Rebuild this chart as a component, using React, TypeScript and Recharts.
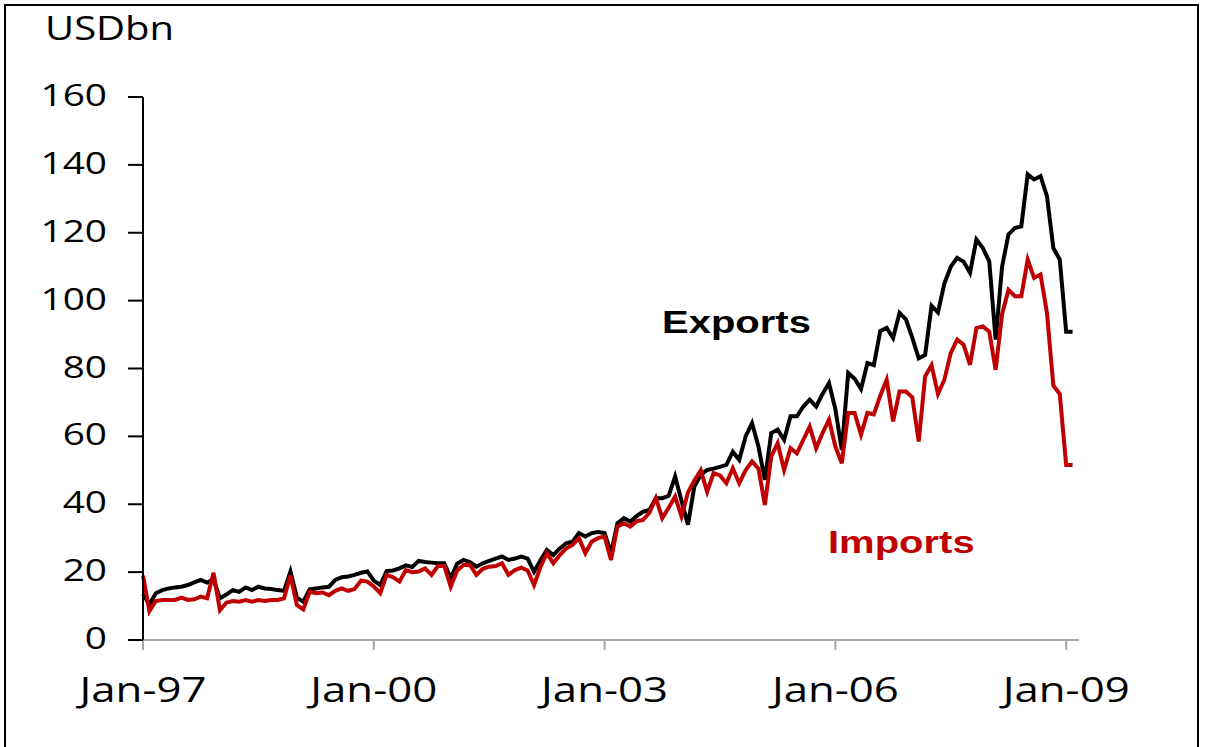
import React from "react";
import { Line, LineChart, XAxis, YAxis } from "recharts";

// monthly, Jan-97 .. Feb-09 (USD bn)
const exportsBn = [
  13.5, 10.5, 13.8, 14.7, 15.2, 15.5, 15.7, 16.2, 17.0, 17.7, 16.9, 17.8,
  12.3, 13.4, 14.7, 14.2, 15.5, 14.7, 15.7, 15.2, 15.0, 14.7, 14.5, 20.2,
  12.5, 11.3, 14.9, 15.2, 15.5, 15.7, 17.7, 18.5, 18.7, 19.2, 19.8, 20.2,
  17.5, 16.2, 20.3, 20.5, 21.1, 22.0, 21.5, 23.3, 23.0, 22.8, 22.6, 22.6,
  18.2, 22.5, 23.6, 23.0, 21.6, 22.6, 23.3, 24.0, 24.6, 23.6, 24.0, 24.6,
  24.0, 20.1, 23.5, 26.5, 25.0, 27.0, 28.5, 29.0, 31.5, 30.5, 31.5, 31.8,
  31.5, 25.5, 34.4, 35.9, 34.9, 36.5, 37.8, 38.3, 41.8, 41.8, 42.5, 48.2,
  41.0, 34.0, 45.2, 48.7, 50.1, 50.5, 51.0, 51.6, 55.5, 53.1, 60.0, 63.9,
  57.0, 47.2, 61.0, 62.0, 59.0, 65.9, 65.9, 68.8, 70.8, 68.8, 72.5, 75.7,
  68.0, 56.0, 78.7, 77.0, 74.0, 81.6, 81.0, 91.0, 92.0, 89.0, 96.4, 94.5,
  89.0, 83.0, 84.0, 98.5, 96.5, 105.0, 110.0, 112.6, 111.5, 108.2, 118.0, 115.5,
  111.6, 88.5, 110.0, 119.5, 121.4, 121.9, 137.2, 135.7, 136.7, 130.8, 115.5, 112.1,
  90.8, 90.8,
];

const importsBn = [
  19.0, 8.5, 11.5, 11.8, 11.8, 11.8, 12.5, 11.8, 12.0, 12.8, 12.3, 19.8,
  8.8, 11.0, 11.5, 11.3, 11.8, 11.3, 11.8, 11.5, 11.8, 11.8, 12.3, 19.0,
  10.3, 9.0, 14.2, 13.8, 14.0, 13.2, 14.5, 15.2, 14.5, 15.0, 17.5, 17.2,
  15.8, 13.8, 19.2, 18.5, 17.2, 20.6, 20.0, 20.2, 21.1, 19.2, 21.8, 21.8,
  15.7, 20.5, 22.1, 22.1, 19.2, 21.0, 21.6, 21.8, 22.6, 19.2, 20.6, 21.3,
  20.5, 16.2, 21.5, 25.6, 22.6, 25.0, 27.0, 28.0, 30.0, 25.6, 29.0, 30.0,
  30.5, 23.6, 33.4, 34.4, 33.4, 35.0, 35.4, 37.5, 41.8, 35.9, 39.0, 42.3,
  36.4, 43.5, 47.0, 50.0, 43.7, 49.2, 48.5, 46.2, 50.6, 46.2, 50.0, 52.6,
  50.5, 39.8, 54.1, 58.0, 50.1, 56.5, 55.0, 59.0, 62.9, 56.5, 61.0, 64.9,
  57.0, 52.1, 66.9, 66.9, 60.5, 66.9, 66.5, 72.0, 76.7, 64.4, 73.2, 73.2,
  71.5, 58.5, 77.7, 81.0, 72.5, 76.7, 84.6, 88.5, 87.0, 81.1, 91.9, 92.4,
  90.9, 79.6, 96.0, 103.2, 101.3, 101.3, 112.1, 106.7, 107.7, 96.4, 75.0, 72.5,
  51.6, 51.6,
];

const xTicks = [0, 36, 72, 108, 144];
const xTickLabels = ["Jan-97", "Jan-00", "Jan-03", "Jan-06", "Jan-09"];
const yTicks = [0, 20, 40, 60, 80, 100, 120, 140, 160];

const data = exportsBn.map((e, i) => ({ m: i, exports: e, imports: importsBn[i] }));

const RED = "#c00000";
const SX = 1.25; // the reference text is stretched sideways
const TICK_FONT = "'Open Sans', 'Noto Sans', sans-serif";
const LABEL_FONT = "'Liberation Sans', Arial, sans-serif";

function XTick({ x, y, payload }: any) {
  const idx = xTicks.indexOf(payload.value);
  return (
    <g transform={`translate(${x},${y}) scale(${SX},1)`}>
      <text x={0} y={0} dy={46} textAnchor="middle" fontFamily={TICK_FONT} fontSize={35} fill="#000">
        {xTickLabels[idx]}
      </text>
    </g>
  );
}

function YTick({ x, y, payload }: any) {
  return (
    <g transform={`translate(${x},${y}) scale(${SX},1)`}>
      <text x={0} y={0} dy={9} textAnchor="end" fontFamily={TICK_FONT} fontSize={31} fill="#000">
        {payload.value}
      </text>
    </g>
  );
}

export default function App() {
  return (
    <div style={{ position: "absolute", left: 0, top: 0, width: 1208, height: 747, background: "#fff", overflow: "hidden" }}>
      <div style={{ position: "absolute", left: 4, top: 4, width: 1195, height: 760, border: "2px solid #000", boxSizing: "border-box" }} />
      <LineChart width={1208} height={747} data={data} margin={{ top: 97, right: 129, bottom: 47, left: 43 }}>
        <XAxis
          type="number"
          dataKey="m"
          domain={[0, 146]}
          ticks={xTicks}
          height={60}
          tickSize={10}
          tickMargin={6}
          axisLine={{ stroke: "#a6a6a6", strokeWidth: 2 }}
          tickLine={{ stroke: "#a6a6a6", strokeWidth: 2 }}
          tick={<XTick />}
          interval={0}
        />
        <YAxis
          domain={[0, 160]}
          ticks={yTicks}
          width={100}
          tickSize={15}
          tickMargin={21}
          axisLine={{ stroke: "#000", strokeWidth: 2 }}
          tickLine={{ stroke: "#000", strokeWidth: 2 }}
          tick={<YTick />}
          interval={0}
        />
        <Line dataKey="exports" stroke="#000" strokeWidth={4} dot={false} isAnimationActive={false} />
        <Line dataKey="imports" stroke={RED} strokeWidth={4} dot={false} isAnimationActive={false} />
      </LineChart>
      <svg width={1208} height={747} style={{ position: "absolute", left: 0, top: 0, pointerEvents: "none" }}>
        <g transform={`translate(45,40) scale(${SX},1)`}>
          <text fontFamily={TICK_FONT} fontSize={32} fill="#000">USDbn</text>
        </g>
        <g transform={`translate(662,333) scale(${SX},1)`}>
          <text fontFamily={LABEL_FONT} fontWeight="bold" fontSize={32} fill="#000">Exports</text>
        </g>
        <g transform={`translate(828,553) scale(${SX},1)`}>
          <text fontFamily={LABEL_FONT} fontWeight="bold" fontSize={32} fill={RED}>Imports</text>
        </g>
      </svg>
    </div>
  );
}
